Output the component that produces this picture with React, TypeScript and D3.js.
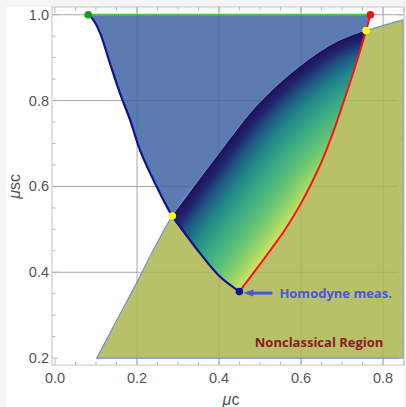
import * as d3 from "d3";

type Pt = [number, number];

// boundary of the upper (blue) region, left side
const leftUpper: Pt[] = [
  [0.081, 1.0], [0.0934, 0.988], [0.11, 0.957], [0.134, 0.887], [0.1585, 0.817],
  [0.183, 0.755], [0.207, 0.685], [0.232, 0.631], [0.256, 0.584], [0.286, 0.531],
];
const leftLower: Pt[] = [
  [0.286, 0.531], [0.305, 0.506], [0.354, 0.444], [0.402, 0.39], [0.4496, 0.355],
];
// red curve
const redLower: Pt[] = [
  [0.4496, 0.355], [0.52, 0.4445], [0.561, 0.4995], [0.6017, 0.564], [0.626, 0.6085],
  [0.652, 0.662], [0.68, 0.731], [0.705, 0.801], [0.7276, 0.866], [0.7585, 0.963],
];
const redTop: Pt[] = [[0.7585, 0.963], [0.769, 1.0]];
// edge of the nonclassical region
const edgeLower: Pt[] = [[0.1017, 0.2], [0.19, 0.359], [0.286, 0.531]];
const edgeUpper: Pt[] = [
  [0.286, 0.531], [0.38, 0.651], [0.476, 0.77], [0.517, 0.812], [0.557, 0.848],
  [0.598, 0.88], [0.638, 0.908], [0.678, 0.932], [0.72, 0.95], [0.7585, 0.963],
];
const edgeRight: Pt[] = [[0.7585, 0.963], [0.849, 0.988]];
const regionCorner: Pt = [0.849, 0.2];

const greenDot: Pt = [0.081, 1.0];
const redDot: Pt = [0.769, 1.0];
const yellowDots: Pt[] = [[0.286, 0.531], [0.7585, 0.963]];
const navyDot: Pt = [0.4496, 0.355];

const xTicks = [0, 0.2, 0.4, 0.6, 0.8];
const yTicks = [0.2, 0.4, 0.6, 0.8, 1.0];
const xGrid = [0.2, 0.4, 0.6, 0.8];
const yGrid = [0.4, 0.6, 0.8, 1.0];

// colour ramp of the shaded region (dark at the edge -> yellow)
const rampPos = [0, 0.08, 0.18, 0.32, 0.5, 0.68, 0.85, 1];
const rampCol = ["#1f1258", "#21256e", "#1f5585", "#22878a", "#3bab84", "#5fc275", "#9ed767", "#e6e95c"];

const W = 406;
const H = 407;

export default function App() {
  const x = d3.scaleLinear().domain([-0.0073, 0.851]).range([52, 404]);
  const y = d3.scaleLinear().domain([0.184, 1.018]).range([365, 7]);
  const curve = d3.curveCatmullRom.alpha(0.5);
  const line = d3.line<Pt>().x(d => x(d[0])).y(d => y(d[1])).curve(curve);
  const cont = (pts: Pt[]) => (line(pts) || "").replace(/^M/, "L");

  const leftAll = [...leftUpper, ...leftLower.slice(1)];
  const redAll = [...redLower, ...redTop.slice(1)];
  const edgeAll = [...edgeLower, ...edgeUpper.slice(1), ...edgeRight.slice(1)];

  const bluePath = line(leftAll) + cont(redAll) + "Z";
  const olivePath = line(edgeAll) + `L${x(regionCorner[0])},${y(regionCorner[1])}Z`;
  const gradPath =
    line(edgeUpper) + cont([...redLower].reverse()) + cont([...leftLower].reverse()) + "Z";

  // shaded bands: copies of the edge pushed towards lower right
  const cmap = d3.scaleLinear<string>().domain(rampPos).range(rampCol).clamp(true);
  const bandEdge: Pt[] = [[0.12, 0.32], ...edgeUpper, [0.85, 0.99], [0.95, 1.01]];
  const step = 1.2;
  const dmax = 104;
  const offsets = d3.range(0, 115, step).reverse();
  const bandLine = (o: number) =>
    d3.line<Pt>().x(d => x(d[0]) + o * 0.707).y(d => y(d[1]) + o * 0.707).curve(curve)(bandEdge) || "";

  const minor = d3.range(0, 0.86, 0.05);
  const minorY = d3.range(0.2, 1.02, 0.05);

  const nx = x(navyDot[0]);
  const ny = y(navyDot[1]);
  const tickFont = "'Liberation Sans', Arial, sans-serif";

  return (
    <svg width={W} height={H} style={{ position: "absolute", left: 0, top: 0 }}>
      <rect width={W} height={H} fill="#f5f5f5" />
      <rect x={6} y={7} width={398} height={H - 7} fill="#ffffff" />

      {/* grid */}
      <g stroke="#a8a8a8" strokeWidth={1}>
        {xGrid.map(t => (
          <line key={"gx" + t} x1={x(t)} x2={x(t)} y1={y.range()[0]} y2={y.range()[1]} />
        ))}
        {yGrid.map(t => (
          <line key={"gy" + t} x1={x.range()[0]} x2={x.range()[1]} y1={y(t)} y2={y(t)} />
        ))}
      </g>

      {/* regions */}
      <path d={bluePath} fill="#3f64a2" fillOpacity={0.85} />
      <path d={olivePath} fill="#abb550" fillOpacity={0.85} stroke="#7093cc" strokeWidth={1.2} />

      <defs>
        <clipPath id="gradClip">
          <path d={gradPath} />
        </clipPath>
      </defs>
      <g clipPath="url(#gradClip)" fill="none">
        {offsets.map(o => (
          <path key={o} d={bandLine(o)} stroke={cmap(o / dmax)} strokeWidth={step * 1.9} />
        ))}
      </g>

      {/* frame and ticks */}
      <rect x={52} y={7} width={352} height={358} fill="none" stroke="#c4c4c4" strokeWidth={1} />
      <g stroke="#b8b8b8" strokeWidth={1}>
        {minor.map(t => {
          const major = xTicks.some(v => Math.abs(v - t) < 1e-6);
          const len = major ? 6 : 3.5;
          return (
            <g key={"tx" + t}>
              <line x1={x(t)} x2={x(t)} y1={365} y2={365 - len} />
              <line x1={x(t)} x2={x(t)} y1={7} y2={7 + len} />
            </g>
          );
        })}
        {minorY.map(t => {
          const major = yTicks.some(v => Math.abs(v - t) < 1e-6);
          const len = major ? 6 : 3.5;
          return (
            <g key={"ty" + t}>
              <line x1={52} x2={52 + len} y1={y(t)} y2={y(t)} />
              <line x1={404} x2={404 - len} y1={y(t)} y2={y(t)} />
            </g>
          );
        })}
      </g>

      {/* curves */}
      <line x1={x(greenDot[0])} x2={x(redDot[0])} y1={y(greenDot[1])} y2={y(redDot[1])} stroke="#3cc83c" strokeWidth={2} />
      <path d={line(leftAll) || ""} fill="none" stroke="#0a1596" strokeWidth={2.2} />
      <path d={line(redAll) || ""} fill="none" stroke="#ff1010" strokeWidth={2} />

      {/* points */}
      <circle cx={x(greenDot[0])} cy={y(greenDot[1])} r={3.8} fill="#12a012" />
      <circle cx={x(redDot[0])} cy={y(redDot[1])} r={3.8} fill="#ee1111" />
      {yellowDots.map((p, i) => (
        <circle key={i} cx={x(p[0])} cy={y(p[1])} r={3.8} fill="#ffff14" />
      ))}
      <circle cx={nx} cy={ny} r={3.8} fill="#0a1496" />

      {/* annotation */}
      <line x1={nx + 33} x2={nx + 12} y1={ny + 1.5} y2={ny + 1.5} stroke="#4b56d6" strokeWidth={3} />
      <path d={`M${nx + 4},${ny + 1.5}L${nx + 14},${ny - 2}L${nx + 14},${ny + 5}Z`} fill="#4b56d6" />
      <text x={nx + 40} y={ny + 6.5} fill="#4b56d6" fontFamily="'Open Sans', sans-serif" fontWeight="bold" fontSize={13}>
        Homodyne meas.
      </text>
      <text x={x(0.644)} y={y(0.226)} textAnchor="middle" fill="#8b1a22" fontFamily="'Open Sans', sans-serif" fontWeight="bold" fontSize={13}>
        Nonclassical Region
      </text>

      {/* tick labels */}
      <g fill="#555" fontFamily={tickFont} fontSize={14.5}>
        {xTicks.map(t => (
          <text key={"lx" + t} x={x(t)} y={383} textAnchor="middle">
            {d3.format(".1f")(t)}
          </text>
        ))}
        {yTicks.map(t => (
          <text key={"ly" + t} x={49} y={y(t) + 5} textAnchor="end">
            {d3.format(".1f")(t)}
          </text>
        ))}
      </g>

      {/* axis titles */}
      <text x={231} y={405} textAnchor="middle" fill="#555" fontFamily={tickFont} fontSize={16}>
        <tspan fontStyle="italic">μ</tspan>c
      </text>
      <text transform={`translate(20,${y(0.6)}) rotate(-90)`} textAnchor="middle" fill="#555" fontFamily={tickFont} fontSize={16}>
        <tspan fontStyle="italic">μ</tspan>sc
      </text>
    </svg>
  );
}
